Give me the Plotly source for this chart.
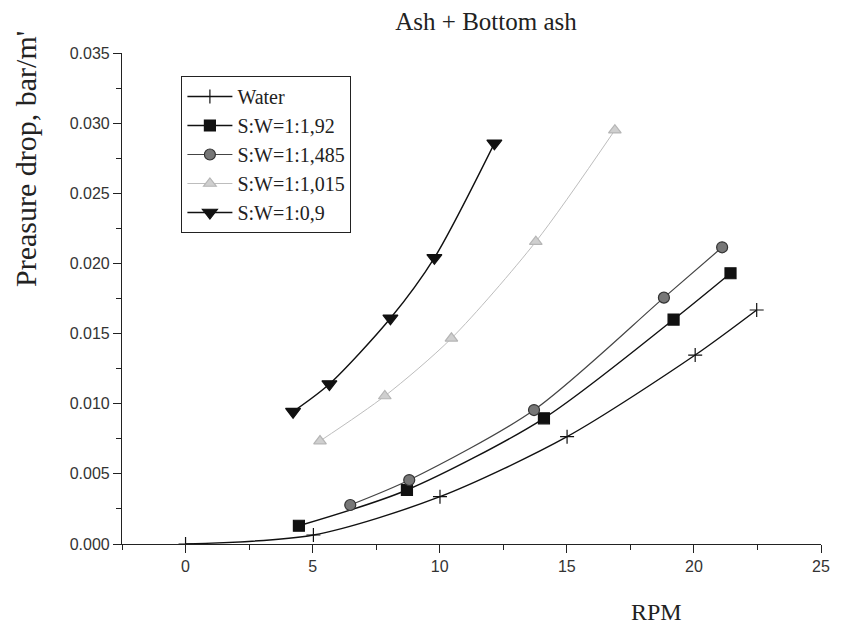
import plotly.graph_objects as go

# Data
water_x = [0.0, 5.03, 10.01, 15.01, 20.05, 22.47]
water_y = [0.0, 0.00064, 0.00337, 0.00765, 0.01347, 0.01668]

sq_x = [4.46, 8.71, 14.10, 19.20, 21.44]
sq_y = [0.0013, 0.00385, 0.00896, 0.0160, 0.0193]

ci_x = [6.48, 8.80, 13.71, 18.82, 21.11]
ci_y = [0.00278, 0.00456, 0.00955, 0.01756, 0.02115]

tu_x = [5.29, 7.84, 10.46, 13.78, 16.89]
tu_y = [0.00734, 0.01055, 0.01466, 0.02155, 0.0295]

td_x = [4.23, 5.66, 8.06, 9.79, 12.15]
td_y = [0.00943, 0.0114, 0.01609, 0.0204, 0.02856]

names = ["Water", "S:W=1:1,92", "S:W=1:1,485", "S:W=1:1,015", "S:W=1:0,9"]
x_ticks = [0, 5, 10, 15, 20, 25]
y_ticks = [0.000, 0.005, 0.010, 0.015, 0.020, 0.025, 0.030, 0.035]

serif = "Liberation Serif, Times New Roman, serif"
sans = "Liberation Sans Narrow, Liberation Sans, Arial, sans-serif"

fig = go.Figure()

series = [
    (water_x, water_y, names[0], "#111111", "#111111", "cross-thin", 10, 1.4, "#111111"),
    (sq_x, sq_y, names[1], "#111111", "#111111", "square", 11, 1.4, "#111111"),
    (ci_x, ci_y, names[2], "#444444", "#777777", "circle", 11, 1.2, "#333333"),
    (tu_x, tu_y, names[3], "#bdbdbd", "#cfcfcf", "triangle-up", 11, 1.0, "#b5b5b5"),
    (td_x, td_y, names[4], "#111111", "#111111", "triangle-down", 13, 1.4, "#111111"),
]

for xs, ys, nm, lc, mc, sym, ms, lw, mlc in series:
    fig.add_trace(go.Scatter(
        x=xs, y=ys, name=nm, mode="lines+markers",
        line=dict(color=lc, width=lw, shape="spline", smoothing=0.8),
        marker=dict(symbol=sym, size=ms, color=mc,
                    line=dict(color=mlc, width=1.2)),
    ))

fig.update_layout(
    width=842, height=626,
    margin=dict(l=122, r=14, t=53, b=82),
    paper_bgcolor="white", plot_bgcolor="white",
    showlegend=True,
    legend=dict(
        x=(182 - 122) / 706, y=(544 - 76) / 491, xanchor="left", yanchor="top",
        bordercolor="#222222", borderwidth=1, bgcolor="white",
        font=dict(family=serif, size=20, color="#222222"),
        tracegroupgap=0, itemwidth=45,
    ),
    title=dict(text="Ash + Bottom ash", x=486 / 842, xanchor="center",
               y=1 - 21 / 626, yanchor="middle",
               font=dict(family=serif, size=25, color="#222222")),
)

fig.update_xaxes(
    range=[-2.5, 25], tickvals=x_ticks, ticktext=[str(v) for v in x_ticks],
    showgrid=False, zeroline=False, showline=True, linecolor="#222222", linewidth=1.2,
    ticks="outside", ticklen=8, tickwidth=1.2, tickcolor="#222222",
    tickfont=dict(family=sans, size=16, color="#333333"),
    minor=dict(tickvals=[-2.5, 2.5, 7.5, 12.5, 17.5, 22.5], ticks="outside", ticklen=5,
               tickwidth=1.2, tickcolor="#222222", showgrid=False),
)
fig.update_yaxes(
    range=[0, 0.035], tickvals=y_ticks, ticktext=[f"{v:.3f}" for v in y_ticks],
    showgrid=False, zeroline=False, showline=True, linecolor="#222222", linewidth=1.2,
    ticks="outside", ticklen=8, tickwidth=1.2, tickcolor="#222222",
    tickfont=dict(family=sans, size=16, color="#333333"),
    minor=dict(tickvals=[0.0025, 0.0075, 0.0125, 0.0175, 0.0225, 0.0275, 0.0325],
               ticks="outside", ticklen=5, tickwidth=1.2, tickcolor="#222222", showgrid=False),
)

fig.add_annotation(text="RPM", xref="paper", yref="paper",
                   x=(662 - 122) / 706, y=-(612 - 544) / 491,
                   xanchor="center", yanchor="middle", showarrow=False,
                   font=dict(family=serif, size=24, color="#222222"))
fig.add_annotation(text="Preasure drop, bar/m'", xref="paper", yref="paper",
                   x=-(122 - 24) / 706, y=(544 - 159) / 491,
                   xanchor="center", yanchor="middle", showarrow=False, textangle=-90,
                   font=dict(family=serif, size=30, color="#222222"))

fig.write_html("out.html", config={"displayModeBar": False},
               post_script="document.body.style.margin='0';document.body.style.overflow='hidden';")
